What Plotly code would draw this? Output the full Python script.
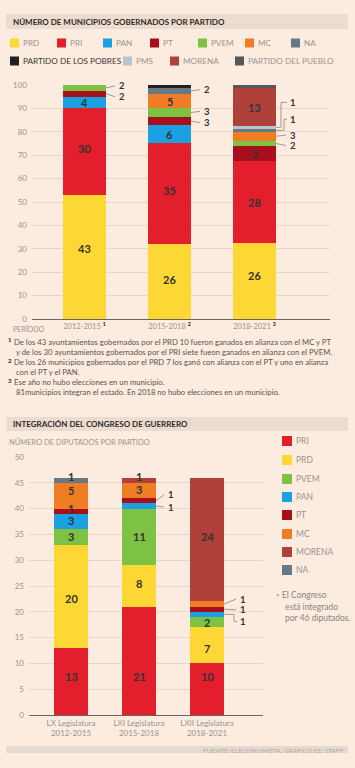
import plotly.graph_objects as go

W, H = 355, 768

# ---------------- DATA: municipios gobernados por partido ----------------
periods = ["2012-2015", "2015-2018", "2018-2021"]
period_notes = ["1", "2", "3"]
muni_PRD = [43, 26, 26]
muni_PRI = [30, 35, 28]
muni_PAN = [4, 6, 0]
muni_PT = [2, 3, 5]
muni_PVEM = [2, 3, 2]
muni_MC = [0, 5, 3]
muni_NA = [0, 2, 1]
muni_POBRES = [0, 1, 0]
muni_PMS = [0, 0, 1]
muni_MORENA = [0, 0, 13]
muni_PUEBLO = [0, 0, 1]

# ---------------- DATA: integración del Congreso ----------------
legislaturas = ["LX Legislatura", "LXI Legislatura", "LXII Legislatura"]
leg_periods = ["2012-2015", "2015-2018", "2018-2021"]
dip_PRI = [13, 21, 10]
dip_PRD = [20, 8, 7]
dip_PVEM = [3, 11, 2]
dip_PAN = [3, 1, 1]
dip_PT = [1, 1, 1]
dip_MC = [5, 3, 1]
dip_MORENA = [0, 1, 24]
dip_NA = [1, 0, 0]

# ---------------- STYLE ----------------
COLORS = {
    "PRD": "#fdd835", "PRI": "#e31e2d", "PAN": "#1ba1e2", "PT": "#a80f1c",
    "PVEM": "#7dc243", "MC": "#f07d24", "NA": "#687986",
    "PARTIDO DE LOS POBRES": "#231f20", "PMS": "#b8c7cf",
    "MORENA": "#b0403a", "PARTIDO DEL PUEBLO": "#575757",
}
BG = "#fcebdf"
GRID = "#ead6c8"
FONT = "Lato"
LABEL_COLOR = "#333333"
TICK_COLOR = "#9a9490"

muni_series = [
    ("PRD", muni_PRD), ("PRI", muni_PRI), ("PAN", muni_PAN), ("PT", muni_PT),
    ("PVEM", muni_PVEM), ("MC", muni_MC), ("NA", muni_NA),
    ("PARTIDO DE LOS POBRES", muni_POBRES), ("PMS", muni_PMS),
    ("MORENA", muni_MORENA), ("PARTIDO DEL PUEBLO", muni_PUEBLO),
]
dip_series = [
    ("PRI", dip_PRI), ("PRD", dip_PRD), ("PVEM", dip_PVEM), ("PAN", dip_PAN),
    ("PT", dip_PT), ("MC", dip_MC), ("MORENA", dip_MORENA), ("NA", dip_NA),
]


def X(px):
    return px / W


def Y(py):
    return 1 - py / H


# layout geometry (pixels)
TOP = dict(x0=32, x1=330, y0=319, ytop=85, c0=84.5, step=85, bw=0.506, ymax=100)
BOT = dict(x0=29, x1=263, y0=715, ytop=457, c0=71, step=68, bw=0.5, ymax=50)

fig = go.Figure()
n = len(periods)
xpos = list(range(n))

muni_totals = [sum(s[i] for _, s in muni_series) for i in range(n)]
muni_pct = {name: [v / t * 100 for v, t in zip(vals, muni_totals)] for name, vals in muni_series}
for name, vals in muni_series:
    fig.add_trace(go.Bar(
        x=xpos, y=muni_pct[name], name=name, customdata=vals,
        marker=dict(color=COLORS[name], line=dict(width=0)), width=TOP["bw"],
        xaxis="x", yaxis="y", showlegend=False,
        hovertemplate=name + ": %{customdata}<extra></extra>"))

for name, vals in dip_series:
    fig.add_trace(go.Bar(
        x=xpos, y=vals, name=name,
        marker=dict(color=COLORS[name], line=dict(width=0)), width=BOT["bw"],
        xaxis="x2", yaxis="y2", showlegend=False,
        hovertemplate=name + ": %{y}<extra></extra>"))

annotations = []
shapes = []


def ann(px, py, text, size=8, color=TICK_COLOR, xanchor="left", bold=False, **kw):
    if bold:
        text = "<b>" + text + "</b>"
    annotations.append(dict(x=X(px), y=Y(py), xref="paper", yref="paper", text=text,
                            showarrow=False, xanchor=xanchor, yanchor="middle",
                            font=dict(family=FONT, size=size, color=color), **kw))


def rect(x0, y0, x1, y1, color):
    shapes.append(dict(type="rect", xref="paper", yref="paper", x0=X(x0), x1=X(x1),
                       y0=Y(y1), y1=Y(y0), fillcolor=color, line=dict(width=0), layer="below"))


# ---- bar labels ----
def add_labels(series, plotted, spec, geo, gaps, xref, yref):
    ppu_y = (geo["y0"] - geo["ytop"]) / geo["ymax"]
    ppu_x = geo["step"]
    half = geo["bw"] / 2
    for i in range(n):
        cum = 0.0
        for name, vals in series:
            v = plotted[name][i]
            lo, hi = cum, cum + v
            cum = hi
            if name not in spec[i]:
                continue
            s = spec[i][name]
            mode, dy = s[0], s[1]
            c = (lo + hi) / 2
            txt = "<b>%d</b>" % vals[i]
            if mode in ("in", "top", "base"):
                font = dict(family=FONT, size=11, color=LABEL_COLOR)
                if mode == "in":
                    yy = c - dy / ppu_y
                elif mode == "top":
                    yy = hi + (4 - dy) / ppu_y
                else:
                    yy = dy / ppu_y
                annotations.append(dict(x=i, y=yy, xref=xref, yref=yref, text=txt, showarrow=False,
                                        xanchor="center", yanchor="middle", font=font))
            else:
                font = dict(family=FONT, size=9.5, color=LABEL_COLOR)
                G = gaps[i]
                edge = i + half
                yl = c - dy / ppu_y
                if mode == "right":
                    path = "M %f,%f L %f,%f" % (edge, c, edge + (G - 3) / ppu_x, yl)
                else:
                    L = s[2]
                    path = "M %f,%f L %f,%f L %f,%f L %f,%f" % (
                        edge, c, edge + L / ppu_x, c, edge + L / ppu_x, yl, edge + (G - 2) / ppu_x, yl)
                shapes.append(dict(type="path", xref=xref, yref=yref, path=path,
                                   line=dict(color="#8a8580", width=0.8)))
                annotations.append(dict(x=edge + G / ppu_x, y=yl, xref=xref, yref=yref, text=txt,
                                        showarrow=False, xanchor="left", yanchor="middle", font=font,
                                        borderpad=0))


muni_label_spec = [
    {"PRD": ("in", -8), "PRI": ("in", -3), "PAN": ("in", 0), "PT": ("right", 3), "PVEM": ("right", -2)},
    {"PRD": ("in", -2), "PRI": ("in", -3), "PAN": ("in", 0), "PT": ("right", 1.5), "PVEM": ("right", -1),
     "MC": ("in", 1), "NA": ("right", -1), "PARTIDO DE LOS POBRES": ("top", 1)},
    {"PRD": ("in", -5), "PRI": ("in", 0), "PT": ("in", 0), "PVEM": ("right", 2), "MC": ("right", -1),
     "NA": ("elbow", -11, 8), "PMS": ("elbow", -25, 5), "MORENA": ("in", 1), "PARTIDO DEL PUEBLO": ("top", 2)},
]
dip_label_spec = [
    {"PRI": ("base", 39), "PRD": ("in", 2), "PVEM": ("in", 0), "PAN": ("in", -1), "PT": ("in", -3),
     "MC": ("in", -5), "NA": ("in", -4)},
    {"PRI": ("base", 39), "PRD": ("in", -3), "PVEM": ("in", 0), "PAN": ("right", 1), "PT": ("right", -6),
     "MC": ("in", -1), "MORENA": ("in", -4)},
    {"PRI": ("base", 39), "PRD": ("in", 3), "PVEM": ("in", 0), "PAN": ("elbow", 7, 10), "PT": ("right", 0.5),
     "MC": ("right", -5), "MORENA": ("in", -3)},
]
add_labels(muni_series, muni_pct, muni_label_spec, TOP, [12, 12, 13], "x", "y")
add_labels(dip_series, {k: v for k, v in dip_series}, dip_label_spec, BOT, [11, 11, 15], "x2", "y2")

# ---- titles / header bars ----
rect(6, 14, 348, 29, "#ecdccf")
ann(11, 22, "NÚMERO DE MUNICIPIOS GOBERNADOS POR PARTIDO", size=8, color="#2e2a28", bold=True)
rect(6, 417, 348, 431, "#ecdccf")
ann(11, 424, "INTEGRACIÓN DEL CONGRESO DE GUERRERO", size=8, color="#2e2a28", bold=True)
ann(7, 442, "NÚMERO DE DIPUTADOS POR PARTIDO", size=7.5, color=TICK_COLOR)

# ---- top legend ----
top_leg_pos = [(10, 43), (57, 43), (103, 43), (150, 43), (198, 43), (245, 43), (291, 43),
               (10, 61), (123, 61), (170, 61), (235, 61)]
for (name, _), (lx, ly) in zip(muni_series, top_leg_pos):
    rect(lx, ly - 4.5, lx + 9, ly + 4.5, COLORS[name])
    col = "#3a3633" if name == "PARTIDO DE LOS POBRES" else TICK_COLOR
    ann(lx + 11, ly, name, size=8.2, color=col)

# ---- bottom legend ----
bot_leg_y = [441, 460, 479, 497, 515, 534, 552, 570]
for (name, _), ly in zip(dip_series, bot_leg_y):
    rect(282, ly - 5, 292, ly + 5, COLORS[name])
    ann(294, ly, name, size=8.5, color=TICK_COLOR)

ann(274, 597, "*", size=8, color="#8a8480")
ann(280, 595, "El Congreso", size=8.5, color="#8a8480")
ann(283, 607, "está integrado", size=8.5, color="#8a8480")
ann(283, 618, "por 46 diputados.", size=8.5, color="#8a8480")

# ---- period label ----
ann(11, 329, "PERÍODO", size=7, color=TICK_COLOR)

# ---- footnotes ----
NOTE = "#5a5450"
notes = [
    (6, 12, 342, "1", "De los 43 ayuntamientos gobernados por el PRD 10 fueron ganados en alianza con el MC y PT"),
    (None, 14, 352, None, "y de los 30 ayuntamientos gobernados por el PRI siete fueon ganados en alianza con el PVEM."),
    (6, 12, 362, "2", "De los 26 municipios gobernados por el PRD 7 los ganó con alianza con el PT y uno en alianza"),
    (None, 14, 372, None, "con el PT y el PAN."),
    (6, 12, 382, "3", "Ese año no hubo elecciones en un municipio."),
    (None, 14, 392, None, "81municipios integran el estado. En 2018 no hubo elecciones en un municipio."),
]
for sx, tx, ty, sup, txt in notes:
    if sup:
        ann(sx, ty - 2, sup, size=6, color="#2e2a28", bold=True)
    ann(tx, ty, txt, size=7.7, color=NOTE)

# ---- footer ----
rect(6, 746, 348, 753, "#e4dad2")
ann(345, 750, "FUENTE: ELECONOMISTA. GRÁFICO EE: STAFF", size=6.5, color="#b4aaa2", xanchor="right")

# ---- axes ----
def xrange(geo):
    return [(geo["x0"] - geo["c0"]) / geo["step"], (geo["x1"] - geo["c0"]) / geo["step"]]


top_ticktext = ["%s <span style='color:#222'><b><sup>%s</sup></b></span>" % (p, s)
                for p, s in zip(periods, period_notes)]
bot_ticktext = ["%s<br>%s" % (l, p) for l, p in zip(legislaturas, leg_periods)]

fig.update_layout(
    template="none",
    width=W, height=H,
    margin=dict(l=0, r=0, t=0, b=0, pad=0),
    paper_bgcolor=BG, plot_bgcolor="rgba(0,0,0,0)",
    barmode="stack", bargap=0,
    font=dict(family=FONT, size=8, color=TICK_COLOR),
    showlegend=False,
    xaxis=dict(domain=[X(TOP["x0"]), X(TOP["x1"])], range=xrange(TOP), anchor="y",
               tickvals=xpos, ticktext=top_ticktext, showgrid=False, zeroline=False,
               showline=True, linecolor="#6a6460", linewidth=1, ticks="",
               tickfont=dict(family=FONT, size=7.5, color=TICK_COLOR), automargin=False,
               fixedrange=True),
    yaxis=dict(domain=[Y(TOP["y0"]), Y(TOP["ytop"])], range=[0, 100], anchor="x",
               tickvals=list(range(0, 101, 10)), showgrid=True, gridcolor=GRID, gridwidth=1,
               zeroline=False, showline=False, ticks="", ticklabelstandoff=4,
               tickfont=dict(family=FONT, size=8, color=TICK_COLOR), automargin=False,
               fixedrange=True),
    xaxis2=dict(domain=[X(BOT["x0"]), X(BOT["x1"])], range=xrange(BOT), anchor="y2",
                tickvals=xpos, ticktext=bot_ticktext, showgrid=False, zeroline=False,
                showline=True, linecolor="#6a6460", linewidth=1, ticks="",
                tickfont=dict(family=FONT, size=8, color=TICK_COLOR), automargin=False,
                fixedrange=True),
    yaxis2=dict(domain=[Y(BOT["y0"]), Y(BOT["ytop"])], range=[0, 50], anchor="x2",
                tickvals=list(range(0, 51, 5)), showgrid=True, gridcolor=GRID, gridwidth=1,
                zeroline=False, showline=False, ticks="", ticklabelstandoff=4,
                tickfont=dict(family=FONT, size=8, color=TICK_COLOR), automargin=False,
                fixedrange=True),
    annotations=annotations,
    shapes=shapes,
)

fig.write_html("out.html", config={"displayModeBar": False},
               post_script="document.body.style.margin='0';")
